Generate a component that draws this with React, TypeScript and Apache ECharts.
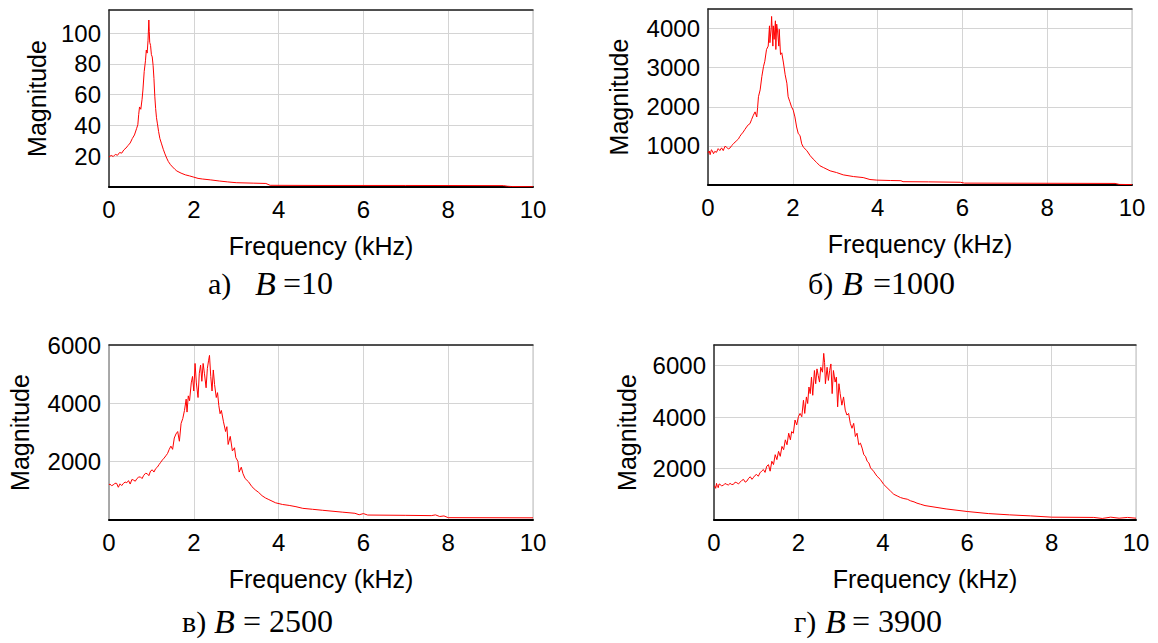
import React, { useEffect, useRef } from "react";
import * as echarts from "echarts";

// Panel а) B = 10
const freqA = [0.00,0.05,0.10,0.15,0.20,0.25,0.30,0.35,0.40,0.45,0.50,0.55,0.60,0.65,0.68,0.70,0.72,0.75,0.78,0.80,0.83,0.86,0.88,0.90,0.92,0.94,0.95,0.96,0.98,1.00,1.02,1.04,1.06,1.08,1.10,1.12,1.14,1.17,1.20,1.24,1.28,1.32,1.36,1.40,1.45,1.50,1.55,1.60,1.70,1.80,1.90,2.00,2.10,2.20,2.40,2.60,2.80,3.00,3.40,3.70,3.80,5.00,7.00,9.30,9.40,9.50,10.00];
const magA = [19.5,20.5,19.8,21.2,20.6,22.4,22.0,24.1,25.3,27.0,28.6,31.5,33.8,37.9,40.5,47.0,52.0,50.5,57.0,63.0,75.0,82.0,89.0,87.0,95.0,108.5,101.0,94.0,92.0,86.0,84.5,79.0,70.5,59.0,51.0,45.0,41.5,36.0,31.5,28.0,24.5,21.5,18.8,16.5,14.5,13.0,11.6,10.4,9.0,7.9,7.2,6.4,5.6,5.2,4.6,3.9,3.3,2.8,2.5,2.3,1.1,1.0,1.0,0.9,0.5,0.3,0.2];

// Panel б) B = 1000
const freqB = [0,0.03,0.05,0.08,0.10,0.13,0.16,0.20,0.24,0.28,0.32,0.36,0.40,0.44,0.48,0.52,0.56,0.60,0.64,0.68,0.72,0.75,0.79,0.83,0.87,0.91,0.95,0.99,1.03,1.07,1.11,1.15,1.17,1.19,1.23,1.27,1.31,1.34,1.38,1.42,1.45,1.46,1.49,1.50,1.53,1.54,1.56,1.59,1.60,1.62,1.64,1.67,1.68,1.71,1.74,1.78,1.82,1.86,1.89,1.93,1.97,2.01,2.05,2.09,2.13,2.17,2.21,2.25,2.33,2.41,2.48,2.56,2.64,2.72,2.88,3.03,3.19,3.43,3.66,3.82,3.98,4.3,4.55,4.6,5.2,5.95,6.05,7.5,9.6,9.7,10];
const magB = [820,870,776,900,880,800,860,836,930,880,950,880,990,966,920,948,1010,1052,1100,1138,1180,1241,1300,1353,1420,1483,1540,1569,1680,1784,1870,1741,1980,2258,2431,2776,3034,3164,3465,3551,4069,3638,4026,4310,3551,4069,3724,4198,3465,4112,3940,3551,3983,3336,3380,3120,2819,2603,2258,2129,1999,1914,1741,1483,1310,1267,1052,966,880,750,664,578,491,448,362,319,259,216,190,140,125,115,110,85,80,70,48,45,40,15,10];

// Panel в) B = 2500
const freqC = [0.00,0.02,0.06,0.10,0.14,0.18,0.22,0.26,0.30,0.34,0.38,0.42,0.46,0.50,0.54,0.58,0.62,0.66,0.70,0.74,0.78,0.82,0.86,0.90,0.94,0.98,
  1.02,1.06,1.10,1.14,1.18,1.22,1.26,1.30,1.34,1.38,1.42,1.46,1.50,1.54,1.58,1.62,1.66,1.70,1.74,1.78,1.82,1.84,1.87,1.90,1.94,1.97,
  2.00,2.03,2.06,2.10,2.13,2.16,2.19,2.22,2.25,2.29,2.32,2.35,2.37,2.40,2.43,2.46,2.49,2.53,2.56,2.59,2.62,2.65,2.70,2.75,2.78,2.81,2.86,2.91,2.96,2.99,
  3.04,3.07,3.12,3.16,3.21,3.29,3.37,3.45,3.53,3.61,3.69,3.77,3.93,
  4.09,4.25,4.41,4.57,4.80,5.04,5.50,5.80,5.90,6.00,6.10,7.00,7.60,7.70,7.80,7.90,8.00,10.00];
const magC = [1200,1233,1180,1200,1260,1256,1122,1240,1180,1256,1300,1278,1350,1233,1390,1367,1330,1422,1470,1478,1420,1533,1600,1589,1520,1678,
  1720,1644,1760,1811,1900,1978,2060,2122,2200,2278,2420,2533,2422,2811,2950,3033,2700,3311,3478,3756,4144,3700,4256,4089,4700,4922,
  4422,5367,4700,4200,5033,5311,4756,5367,5033,4533,5200,5478,5644,4922,4422,5144,4644,4200,4367,3922,3644,3756,3367,3033,3200,2589,2867,2367,2478,2144,
  2011,1644,1811,1589,1422,1311,1144,1033,944,833,756,700,589,
  533,500,456,400,367,333,270,230,180,220,170,160,150,175,120,140,80,75];

// Panel г) B = 3900
const freqD = [0.00,0.02,0.04,0.06,0.08,0.10,0.12,0.14,0.18,0.22,0.26,0.30,0.34,0.38,0.42,0.46,0.50,0.54,0.58,0.62,0.66,0.70,0.74,0.78,0.82,0.86,0.90,0.93,0.97,
  1.01,1.05,1.09,1.13,1.17,1.21,1.25,1.29,1.33,1.37,1.41,1.45,1.49,1.53,1.57,1.61,1.65,1.69,1.73,1.77,1.81,1.84,1.88,1.92,1.96,
  2.00,2.04,2.08,2.12,2.15,2.19,2.22,2.25,2.28,2.31,2.34,2.38,2.41,2.44,2.47,2.50,2.53,2.57,2.60,2.62,2.64,2.68,2.71,2.74,2.77,2.80,2.83,2.87,2.90,2.93,2.96,2.99,
  3.03,3.07,3.11,3.15,3.19,3.23,3.27,3.31,3.35,3.39,3.43,3.47,3.51,3.55,3.59,3.63,3.67,3.71,3.78,3.86,3.94,
  4.02,4.10,4.18,4.26,4.34,4.42,4.50,4.58,4.66,4.74,4.81,4.89,5.00,5.50,6.00,6.50,7.00,7.50,8.00,9.00,9.20,9.40,9.60,9.80,10.00];
const magD = [1300,1321,1230,1423,1300,1256,1400,1385,1330,1346,1420,1385,1360,1423,1380,1385,1470,1449,1400,1474,1540,1577,1470,1513,1620,1679,1580,1641,1730,
  1769,1700,1833,1900,1962,1850,2090,2150,1897,2282,2154,2538,2346,2667,2474,2859,2731,3115,2923,3372,3115,3436,3372,3885,3692,
  4013,4141,4013,4654,4141,4782,4526,5167,4910,5551,4846,5808,5295,5872,5615,5359,5936,5744,6475,6128,5295,5936,5423,5808,6064,4910,5808,5359,5551,4397,5295,4910,
  4462,4782,4269,4077,4141,3756,3564,3756,3244,3372,2923,2987,2795,2538,2474,2282,2218,2026,1897,1705,1577,
  1385,1256,1128,1000,936,872,833,808,744,705,654,615,560,430,330,250,200,160,110,100,60,110,70,100,70];

const freqTicks = [0, 2, 4, 6, 8, 10];
const yMax = [115, 4500, 6000, 6800];
const yInterval = [20, 1000, 2000, 2000];
const captionLetters = ["а)", "б)", "в)", "г)"];
const captionValues = ["=10", "=1000", "= 2500", "= 3900"];

const SANS = "'Liberation Sans', Arial, Helvetica, sans-serif";
const SERIF = "'Liberation Serif', 'Times New Roman', serif";

function zip(f: number[], m: number[]) {
  const n = Math.min(f.length, m.length);
  const out: number[][] = [];
  for (let i = 0; i < n; i++) out.push([f[i], m[i]]);
  return out;
}

export default function App() {
  const ref = useRef<HTMLDivElement>(null);
  useEffect(() => {
    if (!ref.current) return;
    const chart = echarts.init(ref.current, null, { renderer: "svg" });
    const grids = [
      { left: 109, top: 10, width: 424, height: 177 },
      { left: 708, top: 9, width: 424, height: 176 },
      { left: 109, top: 345, width: 424, height: 175 },
      { left: 714, top: 345, width: 422, height: 175 },
    ];
    const yNameGap = [60, 77, 77, 75];
    const yLineColor = ["#333", "#333", "#999", "#333"];
    const datasets = [zip(freqA, magA), zip(freqB, magB), zip(freqC, magC), zip(freqD, magD)];
    const captionPos = [
      { xl: 208, xb: 255, xv: 283, y: 283 },
      { xl: 808, xb: 842, xv: 873, y: 283 },
      { xl: 182, xb: 214, xv: 243, y: 621 },
      { xl: 794, xb: 825, xv: 852, y: 621 },
    ];

    const xAxes: any[] = [];
    grids.forEach((_, i) => {
      xAxes.push({
        type: "value",
        gridIndex: i,
        min: freqTicks[0],
        max: freqTicks[freqTicks.length - 1],
        interval: 2,
        position: "bottom",
        axisLine: { show: true, lineStyle: { color: "#000", width: 2 } },
        axisTick: { show: false },
        axisLabel: { fontSize: 24, color: "#000", margin: 10, fontFamily: SANS },
        splitLine: { show: true, lineStyle: { color: "#d4d4d4", width: 1 } },
        name: "Frequency (kHz)",
        nameLocation: "middle",
        nameGap: 46,
        nameTextStyle: { fontSize: 25, color: "#000", fontFamily: SANS },
      });
    });
    grids.forEach((_, i) => {
      xAxes.push({
        type: "value",
        gridIndex: i,
        min: 0,
        max: 10,
        position: "top",
        axisLine: { show: true, lineStyle: { color: "#222", width: 1.5 } },
        axisTick: { show: false },
        axisLabel: { show: false },
        splitLine: { show: false },
      });
    });

    const yAxes = grids.map((_, i) => ({
      type: "value",
      gridIndex: i,
      min: 0,
      max: yMax[i],
      interval: yInterval[i],
      axisLine: { show: true, lineStyle: { color: yLineColor[i], width: 1.5 } },
      axisTick: { show: false },
      axisLabel: {
        fontSize: 24,
        color: "#000",
        margin: 8,
        fontFamily: SANS,
        showMinLabel: false,
        showMaxLabel: i === 2,
        formatter: (v: number) => String(v),
      },
      splitLine: { show: true, lineStyle: { color: "#d4d4d4", width: 1 } },
      name: "Magnitude",
      nameLocation: "middle",
      nameGap: yNameGap[i],
      nameRotate: 90,
      nameTextStyle: { fontSize: 25, color: "#000", fontFamily: SANS },
    }));

    const series = datasets.map((d, i) => ({
      type: "line",
      xAxisIndex: i,
      yAxisIndex: i,
      data: d,
      showSymbol: false,
      symbol: "none",
      lineStyle: { color: "#ff0000", width: 1 },
      itemStyle: { color: "#ff0000" },
    }));

    const graphic: any[] = [];
    captionPos.forEach((p, i) => {
      graphic.push({
        type: "text",
        x: p.xl,
        y: p.y,
        style: { text: captionLetters[i], fontFamily: SERIF, fontSize: 30, fill: "#000", verticalAlign: "middle", lineHeight: 30 },
      });
      graphic.push({
        type: "text",
        x: p.xb,
        y: p.y,
        style: { text: "B", fontFamily: SERIF, fontSize: 34, fontStyle: "italic", fill: "#000", verticalAlign: "middle", lineHeight: 32 },
      });
      graphic.push({
        type: "text",
        x: p.xv,
        y: p.y,
        style: { text: captionValues[i], fontFamily: SERIF, fontSize: 32, fill: "#000", verticalAlign: "middle", lineHeight: 30 },
      });
    });

    chart.setOption({
      animation: false,
      backgroundColor: "#fff",
      grid: grids.map((g) => ({ ...g, show: true, borderColor: "#bbb", borderWidth: 1, backgroundColor: "transparent" })),
      xAxis: xAxes,
      yAxis: yAxes,
      series,
      graphic,
    });
    return () => chart.dispose();
  }, []);
  return (
    <div
      ref={ref}
      style={{ position: "absolute", left: 0, top: 0, width: 1158, height: 643 }}
    />
  );
}
